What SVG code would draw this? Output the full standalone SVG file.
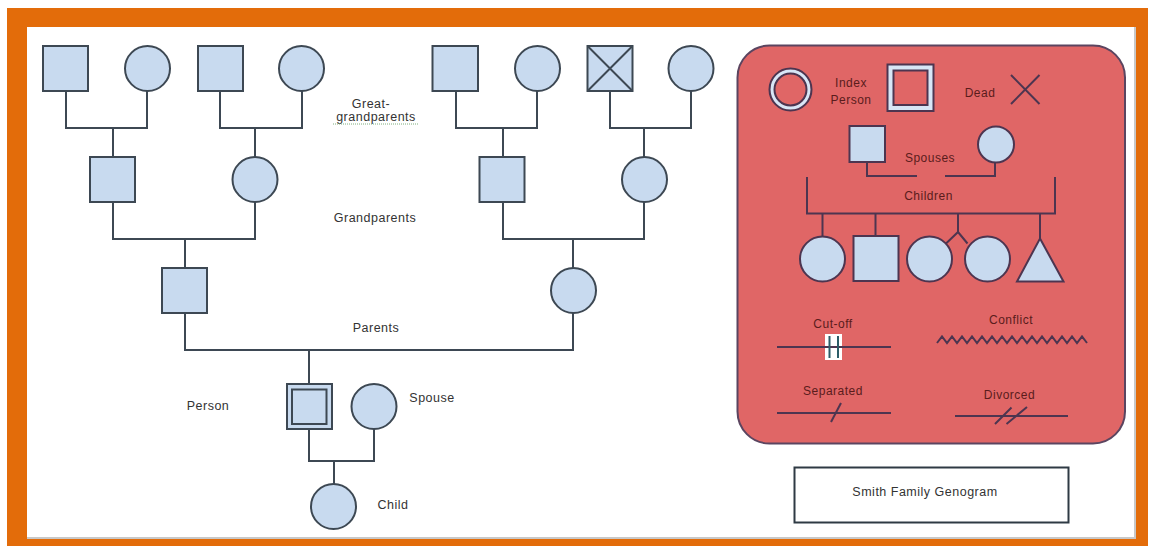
<svg xmlns="http://www.w3.org/2000/svg" width="1154" height="552" viewBox="0 0 1154 552">
<defs>
<style>
.nd{fill:#c8daef;stroke:#3d4853;stroke-width:2}
.ln{fill:none;stroke:#3d4853;stroke-width:2}
.lg{fill:none;stroke:#4d3550;stroke-width:2}
.lgn{fill:#c8daef;stroke:#4d3550;stroke-width:2}
.t{font-family:"Liberation Sans",Arial,sans-serif;font-size:12.5px;fill:#333;letter-spacing:0.5px;text-anchor:middle}
.tl{font-family:"Liberation Sans",Arial,sans-serif;font-size:12px;fill:#5a1c1c;letter-spacing:0.5px;text-anchor:middle}
</style>
</defs>
<rect x="0" y="0" width="1154" height="552" fill="#ffffff"/>
<rect x="7" y="8" width="1141" height="538" fill="#e36c0a"/>
<rect x="27" y="27" width="1108" height="511" fill="#ffffff"/>
<path d="M1135 27 V538 H27" fill="none" stroke="#c8c8c8" stroke-width="2"/>

<g id="connectors">
<path class="ln" d="M66 91 V128 H147 V91"/>
<path class="ln" d="M113 128 V157"/>
<path class="ln" d="M220 91 V128 H302 V91"/>
<path class="ln" d="M255 128 V157"/>
<path class="ln" d="M113 202 V239 H255 V202"/>
<path class="ln" d="M185 239 V268"/>
<path class="ln" d="M456 91 V128 H537 V91"/>
<path class="ln" d="M503 128 V157"/>
<path class="ln" d="M610 91 V128 H691 V91"/>
<path class="ln" d="M644 128 V157"/>
<path class="ln" d="M503 202 V239 H644 V202"/>
<path class="ln" d="M573 239 V268"/>
<path class="ln" d="M185 313 V350 H573 V313"/>
<path class="ln" d="M309 350 V384"/>
<path class="ln" d="M309 429 V461 H374 V429"/>
<path class="ln" d="M334 461 V484"/>
</g>

<g id="ggp1"><rect class="nd" x="43" y="46" width="45" height="45"/></g>
<g id="ggp2"><circle class="nd" cx="147.5" cy="68.5" r="22.5"/></g>
<g id="ggp3"><rect class="nd" x="198" y="46" width="45" height="45"/></g>
<g id="ggp4"><circle class="nd" cx="301.5" cy="68.5" r="22.5"/></g>
<g id="ggp5"><rect class="nd" x="432.5" y="46" width="45.5" height="45"/></g>
<g id="ggp6"><circle class="nd" cx="537.5" cy="68.5" r="22.5"/></g>
<g id="ggp7"><rect class="nd" x="587.5" y="46" width="45" height="45"/><path class="ln" d="M587.5 46 L632.5 91 M632.5 46 L587.5 91"/></g>
<g id="ggp8"><circle class="nd" cx="691" cy="68.5" r="22.5"/></g>

<g id="gp1"><rect class="nd" x="90" y="157" width="45" height="45"/></g>
<g id="gp2"><circle class="nd" cx="255" cy="179.5" r="22.5"/></g>
<g id="gp3"><rect class="nd" x="479.5" y="157" width="45" height="45"/></g>
<g id="gp4"><circle class="nd" cx="644.5" cy="179.5" r="22.5"/></g>

<g id="parent1"><rect class="nd" x="162" y="268" width="45" height="45"/></g>
<g id="parent2"><circle class="nd" cx="573.5" cy="290.5" r="22.5"/></g>

<g id="person"><rect class="nd" x="287" y="384" width="45" height="45"/><rect class="nd" x="292" y="389.5" width="34.5" height="34.5"/></g>
<g id="spouse"><circle class="nd" cx="374" cy="406.5" r="22.5"/></g>
<g id="child"><circle class="nd" cx="333.5" cy="506.5" r="22.5"/></g>

<g id="labels">
<text class="t" x="371" y="108">Great-</text>
<text class="t" x="376" y="121">grandparents</text>
<line x1="333" y1="124" x2="419" y2="124" stroke="#7fae7f" stroke-width="1" stroke-dasharray="1 1"/>
<text class="t" x="375" y="222">Grandparents</text>
<text class="t" x="376" y="332">Parents</text>
<text class="t" x="208" y="409.5">Person</text>
<text class="t" x="432" y="402">Spouse</text>
<text class="t" x="393" y="508.5">Child</text>
</g>

<g id="legend">
<rect x="737.5" y="45.5" width="387.5" height="398" rx="32" ry="32" fill="#e06666" stroke="#5b4560" stroke-width="2"/>
<circle cx="790.5" cy="89.5" r="18.5" fill="none" stroke="#d8e6f6" stroke-width="4"/>
<circle cx="790.5" cy="89.5" r="21" class="lg"/>
<circle cx="790.5" cy="89.5" r="16" class="lg"/>
<text class="tl" x="851" y="87">Index</text>
<text class="tl" x="851" y="103.5">Person</text>
<rect x="890.5" y="67.5" width="40" height="40.5" fill="none" stroke="#d8e6f6" stroke-width="5"/>
<rect x="887.5" y="64.5" width="46" height="46.5" class="lg"/>
<rect x="893.5" y="70.5" width="34" height="34.5" class="lg"/>
<text class="tl" x="980" y="97">Dead</text>
<path class="lg" d="M1011 75 L1039.5 104 M1039.5 75 L1011 104"/>
<rect class="lgn" x="849.5" y="126" width="35.5" height="36"/>
<circle class="lgn" cx="996" cy="144.5" r="18"/>
<text class="tl" x="930" y="161.5">Spouses</text>
<path class="lg" d="M867 162 V176 H917"/>
<path class="lg" d="M945 176 H995 V162.5"/>
<path class="lg" d="M807 177 V213.5 H1055 V177"/>
<text class="tl" x="928.5" y="199.5">Children</text>
<path class="lg" d="M822.5 213.5 V236 M875.5 213.5 V236 M958 213.5 V232 L946 243.5 M958 232 L967.5 243.5 M1040 213.5 V238"/>
<circle class="lgn" cx="822.5" cy="259" r="22.5"/>
<rect class="lgn" x="853.5" y="236" width="45" height="45"/>
<circle class="lgn" cx="929.5" cy="259" r="22.5"/>
<circle class="lgn" cx="987.5" cy="259" r="22.5"/>
<polygon class="lgn" points="1040,238.5 1063.5,281.5 1017,281.5"/>

<text class="tl" x="833" y="327.5">Cut-off</text>
<rect x="825" y="334" width="17" height="26" fill="#ffffff"/>
<line class="lg" x1="777" y1="347" x2="891" y2="347"/>
<path d="M829.5 336 V358 M838 336 V358" stroke="#2b5d68" stroke-width="2"/>
<text class="tl" x="1011" y="323.5">Conflict</text>
<polyline class="lg" stroke-width="1.8" points="937,343 942,336.5 947,343 952,336.5 957,343 962,336.5 967,343 972,336.5 977,343 982,336.5 987,343 992,336.5 997,343 1002,336.5 1007,343 1012,336.5 1017,343 1022,336.5 1027,343 1032,336.5 1037,343 1042,336.5 1047,343 1052,336.5 1057,343 1062,336.5 1067,343 1072,336.5 1077,343 1082,336.5 1087,343"/>
<text class="tl" x="833" y="395">Separated</text>
<line class="lg" x1="777" y1="413" x2="891" y2="413"/>
<line class="lg" x1="831" y1="422" x2="841" y2="403"/>
<text class="tl" x="1009.5" y="399">Divorced</text>
<line class="lg" x1="955" y1="416" x2="1068" y2="416"/>
<path class="lg" d="M995 424 L1011.5 407.5 M1006.5 424 L1027 407"/>
</g>

<g id="title">
<rect x="794.5" y="467.5" width="274" height="55" fill="#ffffff" stroke="#2f3a44" stroke-width="2"/>
<text class="t" x="925" y="496" font-size="12px">Smith Family Genogram</text>
</g>
</svg>
